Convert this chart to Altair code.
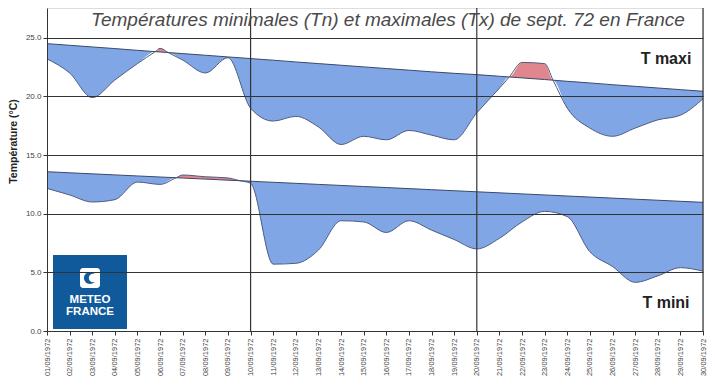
import altair as alt
import pandas as pd

dates = ["01/09/1972", "02/09/1972", "03/09/1972", "04/09/1972", "05/09/1972",
         "06/09/1972", "07/09/1972", "08/09/1972", "09/09/1972", "10/09/1972",
         "11/09/1972", "12/09/1972", "13/09/1972", "14/09/1972", "15/09/1972",
         "16/09/1972", "17/09/1972", "18/09/1972", "19/09/1972", "20/09/1972",
         "21/09/1972", "22/09/1972", "23/09/1972", "24/09/1972", "25/09/1972",
         "26/09/1972", "27/09/1972", "28/09/1972", "29/09/1972", "30/09/1972"]
day_index = [1, 2, 3, 4, 5, 6, 7, 8, 9, 10, 11, 12, 13, 14, 15,
             16, 17, 18, 19, 20, 21, 22, 23, 24, 25, 26, 27, 28, 29, 30]

tx = [23.2, 22.0, 19.9, 21.4, 22.8, 24.1, 23.1, 22.0, 23.3, 19.0,
      17.9, 18.3, 17.4, 15.9, 16.6, 16.3, 17.1, 16.7, 16.3, 18.6,
      20.7, 22.9, 22.8, 19.0, 17.3, 16.6, 17.3, 18.0, 18.4, 19.8]
tx_normal = [24.50, 24.36, 24.22, 24.08, 23.93, 23.79, 23.65, 23.51, 23.37, 23.23,
             23.09, 22.94, 22.80, 22.66, 22.52, 22.38, 22.24, 22.10, 21.97, 21.86,
             21.72, 21.58, 21.44, 21.29, 21.15, 21.00, 20.86, 20.72, 20.58, 20.44]
tn = [12.16, 11.6, 11.0, 11.2, 12.7, 12.5, 13.3, 13.15, 13.05, 12.6,
      5.7, 5.77, 6.9, 9.4, 9.3, 8.4, 9.4, 8.6, 7.8, 7.0,
      7.9, 9.3, 10.2, 9.75, 6.76, 5.5, 4.15, 4.7, 5.4, 5.1]
tn_normal = [13.58, 13.49, 13.40, 13.31, 13.22, 13.13, 13.04, 12.95, 12.86, 12.77,
             12.68, 12.59, 12.50, 12.41, 12.32, 12.23, 12.14, 12.05, 11.96, 11.87,
             11.78, 11.69, 11.60, 11.51, 11.42, 11.33, 11.24, 11.15, 11.06, 10.97]

separators = [10, 20, 30]
y_ticks = [0, 5, 10, 15, 20, 25]
series_labels = ["T maxi", "T mini"]

BLUE = "#80a6e6"
RED = "#e0868e"
OUTLINE = "#4e5d80"
DARK = "#333333"
LOGO = "#105a9c"

rows = []
for name, act, nor in [("Tx", tx, tx_normal), ("Tn", tn, tn_normal)]:
    for i in range(len(day_index)):
        rows.append({"series": name, "x": day_index[i], "actual": act[i], "normal": nor[i]})
        if i < len(day_index) - 1:
            d0 = act[i] - nor[i]
            d1 = act[i + 1] - nor[i + 1]
            if d0 * d1 < 0:
                t = d0 / (d0 - d1)
                xv = day_index[i] + t
                v = nor[i] + t * (nor[i + 1] - nor[i])
                rows.append({"series": name, "x": xv, "actual": v, "normal": v})
df = pd.DataFrame(rows).sort_values(["series", "x"])
df["lo"] = df[["actual", "normal"]].min(axis=1)
df["hi"] = df[["actual", "normal"]].max(axis=1)

label_array = "[" + ",".join("'" + d + "'" for d in dates) + "]"

X = alt.X("x:Q",
          scale=alt.Scale(domain=[1, 30], nice=False, zero=False),
          axis=alt.Axis(values=day_index, labelExpr=label_array + "[datum.value-1]",
                        labelAngle=-90, labelFontSize=7.5, labelColor="#444",
                        labelFont="Liberation Sans", labelPadding=3,
                        tickSize=4, tickColor=DARK, domainColor=DARK,
                        grid=False, title=None))
Y_AX = alt.Axis(values=y_ticks, format=".1f", labelFontSize=8, labelColor="#444",
                labelFont="Liberation Sans", tickSize=4, tickColor=DARK,
                domainColor=DARK, grid=True, gridColor=DARK, gridWidth=1,
                gridOpacity=1, zindex=1,
                title="Température (°C)", titleFont="Liberation Sans",
                titleFontSize=10.5, titleFontWeight="bold", titleColor="#222",
                titleX=-29, titleY=133, titleBaseline="bottom", titleAngle=-90)
YSCALE = alt.Scale(domain=[0, 27.54], nice=False, zero=True)

base = alt.Chart(df)

blue = base.mark_area(color=BLUE, interpolate="monotone", opacity=1).encode(
    x=X, y=alt.Y("lo:Q", scale=YSCALE, axis=Y_AX), y2="normal:Q", detail="series:N")
red = base.mark_area(color=RED, interpolate="monotone", opacity=1).encode(
    x=X, y=alt.Y("hi:Q", scale=YSCALE), y2="normal:Q", detail="series:N")
act_line = base.mark_line(color=OUTLINE, strokeWidth=1, interpolate="monotone").encode(
    x=X, y=alt.Y("actual:Q", scale=YSCALE), detail="series:N")
norm_line = base.mark_line(color="#3a4a6a", strokeWidth=1).encode(
    x=X, y=alt.Y("normal:Q", scale=YSCALE), detail="series:N")

sep = alt.Chart(pd.DataFrame({"x": separators})).mark_rule(color=DARK, strokeWidth=1.2).encode(
    x=X)

title_txt = alt.Chart(pd.DataFrame({"t": ["Températures minimales (Tn) et maximales (Tx) de sept. 72 en France"]})).mark_text(
    font="Liberation Sans", fontSize=19, fontStyle="italic", color="#4a4a4a",
    align="center", baseline="alphabetic").encode(
    text="t:N", x=alt.value(341), y=alt.value(18))

lab_df = pd.DataFrame({"t": series_labels, "py": [50.5, 295]})
labels = alt.Chart(lab_df).mark_text(
    font="Liberation Sans", fontSize=16, fontWeight="bold", color="#222",
    align="center", baseline="middle").encode(
    text="t:N", x=alt.value(619), y=alt.Y("py:Q", scale=None))

logo_bg = alt.Chart(pd.DataFrame({"a": [1]})).mark_rect(color=LOGO).encode(
    x=alt.value(6), x2=alt.value(80), y=alt.value(247), y2=alt.value(321))
logo_icon = alt.Chart(pd.DataFrame({"a": [1]})).mark_rect(color="white", cornerRadius=3).encode(
    x=alt.value(33), x2=alt.value(53), y=alt.value(260), y2=alt.value(280))
logo_dot = alt.Chart(pd.DataFrame({"a": [1]})).mark_point(
    color=LOGO, filled=True, opacity=1, size=150, shape="circle").encode(
    x=alt.value(43), y=alt.value(270))
logo_dot2 = alt.Chart(pd.DataFrame({"a": [1]})).mark_point(
    color="white", filled=True, opacity=1, size=70, shape="circle").encode(
    x=alt.value(46), y=alt.value(270))
logo_txt = alt.Chart(pd.DataFrame({"t": ["METEO", "FRANCE"], "py": [291.5, 304]})).mark_text(
    font="Liberation Sans", fontSize=11.5, fontWeight="bold", color="white",
    align="center", baseline="middle").encode(
    text="t:N", x=alt.value(43), y=alt.Y("py:Q", scale=None))

chart = alt.layer(blue, red, act_line, norm_line, sep, title_txt, labels,
                  logo_bg, logo_icon, logo_dot, logo_dot2, logo_txt).properties(
    width=656, height=323,
    autosize=alt.AutoSizeParams(type="none"),
    padding={"left": 39, "top": 0, "right": 4, "bottom": 47},
).configure_view(stroke=None).configure(background="white")

chart.save("out.html", embed_options={"renderer": "svg", "actions": False})
